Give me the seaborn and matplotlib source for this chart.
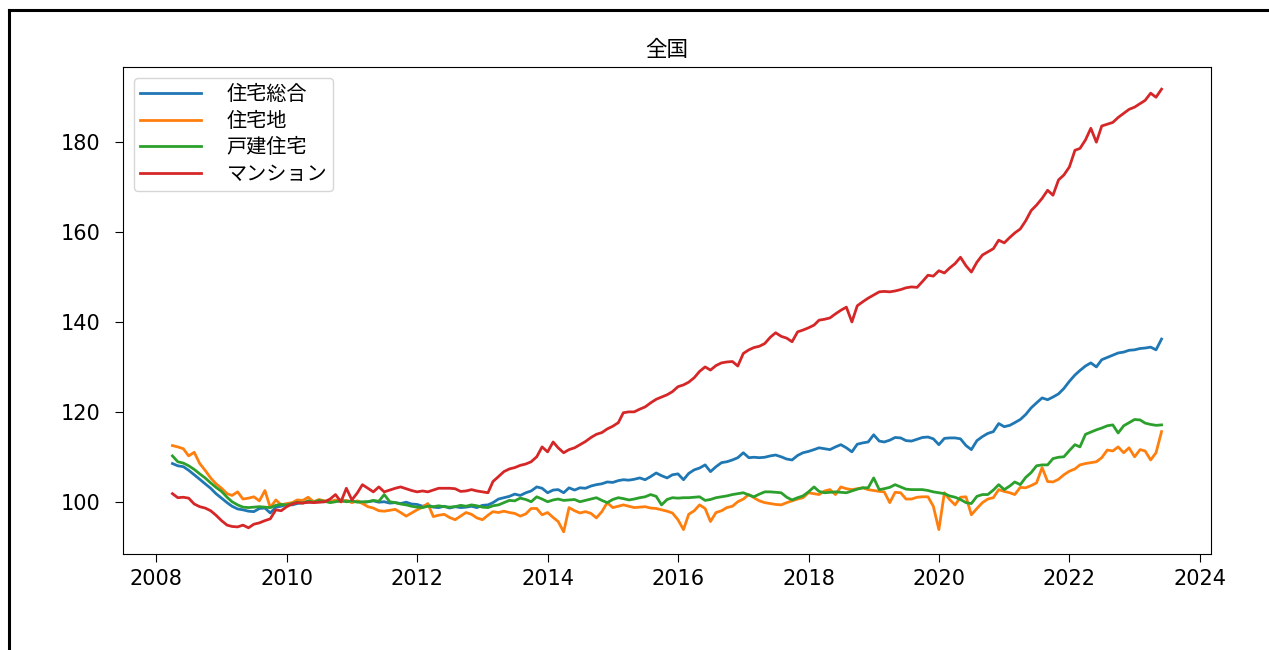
import pandas as pd
import seaborn as sns
import matplotlib.pyplot as plt
import matplotlib.dates as mdates
from matplotlib.lines import Line2D

# monthly index values, 2008-04 .. 2023-06 (2010 average = 100)
start_month = '2008-04-01'

total_housing = [  # 住宅総合
    108.5, 108.0, 107.8, 107.0, 106.0, 105.0, 104.0, 103.0, 101.8,
    100.8, 99.8, 99.0, 98.4, 98.2, 97.9, 97.8, 98.5, 98.6, 97.5, 98.8, 99.0,
    99.4, 99.3, 99.6, 99.8, 99.9, 100.0, 100.0, 100.0, 100.1, 100.2, 100.0, 100.2,
    100.0, 100.1, 99.8, 100.0, 100.2, 99.9, 100.0, 99.7, 99.8, 99.6, 99.9, 99.5,
    99.4, 99.0, 99.3, 98.8, 98.7, 99.0, 98.6, 98.9, 98.7, 98.8, 99.0, 98.7,
    99.2, 99.3, 99.8, 100.6, 100.9, 101.2, 101.7, 101.4, 102.0, 102.4, 103.3, 103.0,
    102.0, 102.6, 102.7, 102.0, 103.1, 102.6, 103.1, 103.0, 103.5, 103.8, 104.0, 104.4,
    104.3, 104.7, 104.9, 104.8, 105.0, 105.3, 104.9, 105.6, 106.4, 105.8, 105.3, 106.0,
    106.2, 104.9, 106.3, 107.1, 107.5, 108.2, 106.7, 107.8, 108.7, 108.9, 109.3, 109.8,
    110.9, 109.8, 109.9, 109.8, 109.9, 110.2, 110.4, 110.0, 109.5, 109.3, 110.3, 110.9,
    111.2, 111.6, 112.0, 111.8, 111.6, 112.2, 112.7, 112.0, 111.1, 112.8, 113.1, 113.3,
    114.9, 113.5, 113.3, 113.7, 114.3, 114.2, 113.6, 113.5, 113.9, 114.3, 114.4, 114.0,
    112.7, 114.1, 114.2, 114.2, 114.0, 112.5, 111.6, 113.6, 114.5, 115.2, 115.6, 117.4,
    116.7, 117.0, 117.6, 118.3, 119.4, 120.9, 122.0, 123.1, 122.7, 123.3, 124.0, 125.2,
    126.8, 128.2, 129.2, 130.2, 130.9, 130.0, 131.6, 132.1, 132.6, 133.1, 133.3, 133.7,
    133.8, 134.1, 134.2, 134.4, 133.8, 136.2,
]

land = [  # 住宅地
    112.5, 112.2, 111.8, 110.2, 111.0, 108.5, 107.0, 105.3, 104.0,
    103.0, 101.8, 101.4, 102.2, 100.6, 100.8, 101.1, 100.2, 102.5, 98.7, 100.4, 99.3,
    99.6, 99.8, 100.4, 100.3, 101.0, 100.0, 100.5, 100.2, 100.0, 100.4, 100.0, 100.3,
    99.8, 100.2, 99.6, 98.9, 98.6, 98.0, 97.9, 98.1, 98.3, 97.6, 96.8, 97.5,
    98.2, 98.8, 99.6, 96.7, 97.0, 97.2, 96.5, 96.0, 96.8, 97.6, 97.2, 96.4,
    96.0, 97.0, 97.8, 97.6, 97.9, 97.6, 97.4, 96.8, 97.3, 98.5, 98.5, 97.1,
    97.6, 96.5, 95.6, 93.3, 98.7, 98.0, 97.5, 97.8, 97.4, 96.4, 97.8, 99.8,
    98.7, 99.0, 99.3, 99.0, 98.7, 98.8, 98.9, 98.6, 98.5, 98.2, 97.9, 97.5,
    96.0, 93.8, 97.2, 98.0, 99.3, 98.5, 95.6, 97.6, 98.0, 98.7, 99.0, 100.0,
    100.6, 101.6, 100.9, 100.2, 99.8, 99.6, 99.4, 99.3, 99.8, 100.2, 100.6, 100.9,
    102.0, 101.8, 101.6, 102.4, 102.7, 101.6, 103.3, 102.9, 102.7, 102.9, 103.1, 102.7,
    102.5, 102.3, 102.2, 99.8, 102.1, 102.0, 100.6, 100.6, 101.0, 101.1, 101.1, 99.0,
    93.8, 102.0, 100.5, 99.3, 101.0, 101.1, 97.1, 98.5, 99.8, 100.6, 100.9, 102.7,
    102.3, 102.0, 101.6, 103.2, 103.1, 103.6, 104.2, 107.6, 104.5, 104.4, 105.0, 106.0,
    106.8, 107.3, 108.2, 108.5, 108.7, 108.9, 109.8, 111.5, 111.3, 112.2, 110.9, 112.0,
    110.0, 111.6, 111.3, 109.3, 110.9, 115.6,
]

detached = [  # 戸建住宅
    110.2, 108.9, 108.6, 108.0, 107.2, 106.2, 105.3, 104.2, 103.2,
    102.3, 101.0, 100.0, 99.3, 98.8, 98.7, 98.8, 98.9, 98.8, 98.7, 99.2, 99.4,
    99.3, 99.6, 99.9, 99.7, 100.2, 99.9, 100.3, 100.1, 99.8, 100.0, 100.4, 100.0,
    100.2, 99.9, 100.0, 100.0, 100.3, 100.1, 101.6, 100.0, 99.8, 99.5, 99.3, 99.0,
    98.8, 98.7, 99.0, 98.9, 99.1, 98.9, 98.8, 98.9, 99.2, 99.0, 99.3, 99.1,
    98.8, 98.7, 99.1, 99.3, 99.8, 100.3, 100.2, 100.8, 100.5, 100.0, 101.1, 100.6,
    100.0, 100.4, 100.6, 100.3, 100.4, 100.5, 100.0, 100.3, 100.6, 100.9, 100.3, 99.8,
    100.5, 100.9, 100.7, 100.4, 100.6, 100.9, 101.1, 101.6, 101.2, 99.3, 100.5, 100.9,
    100.8, 100.9, 100.9, 101.0, 101.1, 100.3, 100.5, 100.9, 101.1, 101.3, 101.6, 101.8,
    102.0, 101.5, 101.1, 101.7, 102.2, 102.2, 102.1, 102.0, 101.0, 100.4, 100.9, 101.3,
    102.2, 103.3, 102.3, 102.0, 102.1, 102.2, 102.1, 102.0, 102.4, 102.8, 103.1, 103.1,
    105.3, 102.7, 102.9, 103.2, 103.8, 103.3, 102.8, 102.7, 102.7, 102.7, 102.5, 102.2,
    102.0, 101.8, 101.3, 101.0, 100.5, 99.8, 99.6, 101.2, 101.6, 101.6, 102.6, 103.8,
    102.7, 103.5, 104.4, 103.8, 105.4, 106.5, 108.0, 108.2, 108.2, 109.6, 109.9, 110.0,
    111.4, 112.7, 112.2, 115.0, 115.5, 116.0, 116.4, 116.9, 117.1, 115.3, 116.9, 117.6,
    118.3, 118.2, 117.5, 117.2, 117.0, 117.1,
]

condo = [  # マンション
    101.8, 100.9, 101.0, 100.8, 99.5, 98.9, 98.6, 98.0, 97.0,
    95.8, 94.8, 94.5, 94.4, 94.8, 94.2, 95.0, 95.3, 95.8, 96.2, 98.2, 98.0,
    98.9, 99.5, 99.8, 99.7, 99.9, 99.8, 99.9, 100.0, 100.6, 101.6, 100.0, 103.0,
    100.4, 102.0, 103.8, 103.0, 102.2, 103.3, 102.2, 102.6, 103.0, 103.3, 102.9, 102.5,
    102.2, 102.4, 102.2, 102.6, 103.0, 103.0, 103.0, 102.9, 102.3, 102.4, 102.7, 102.4,
    102.2, 102.0, 104.5, 105.6, 106.7, 107.3, 107.6, 108.1, 108.4, 108.9, 110.0, 112.2,
    111.1, 113.3, 112.0, 110.9, 111.6, 112.0, 112.7, 113.4, 114.3, 115.0, 115.4, 116.2,
    116.8, 117.6, 119.8, 120.0, 120.0, 120.6, 121.1, 122.0, 122.8, 123.3, 123.8, 124.5,
    125.6, 126.0, 126.6, 127.6, 129.0, 130.0, 129.3, 130.3, 130.9, 131.1, 131.2, 130.2,
    133.0, 133.8, 134.3, 134.6, 135.2, 136.6, 137.6, 136.8, 136.4, 135.6, 137.8, 138.2,
    138.7, 139.3, 140.4, 140.6, 140.9, 141.8, 142.6, 143.3, 140.0, 143.6, 144.5, 145.3,
    146.0, 146.7, 146.8, 146.7, 146.9, 147.2, 147.6, 147.8, 147.7, 149.0, 150.4, 150.2,
    151.4, 150.9, 152.0, 153.0, 154.4, 152.5, 151.1, 153.3, 154.9, 155.6, 156.3, 158.2,
    157.6, 158.8, 159.8, 160.7, 162.5, 164.8, 166.0, 167.5, 169.3, 168.2, 171.6, 172.7,
    174.5, 178.2, 178.6, 180.5, 183.1, 180.0, 183.6, 184.0, 184.4, 185.5, 186.4, 187.3,
    187.8, 188.6, 189.3, 190.9, 190.0, 191.8,
]

series_names = ['住宅総合', '住宅地', '戸建住宅', 'マンション']
series_values = [total_housing, land, detached, condo]

plt.rcParams['font.family'] = ['Noto Sans CJK JP', 'DejaVu Sans']

dates = pd.date_range(start_month, periods=len(total_housing), freq='MS')
frames = []
for name, vals in zip(series_names, series_values):
    frames.append(pd.DataFrame({'date': dates, 'index': vals, 'kind': name}))
data = pd.concat(frames, ignore_index=True)

fig = plt.figure(figsize=(12.69, 6.5), dpi=100)
ax = fig.add_axes([0.0969, 0.1477, 0.8574, 0.7492])

sns.lineplot(data=data, x='date', y='index', hue='kind', hue_order=series_names,
             palette=sns.color_palette('tab10', 4), linewidth=2.0, ax=ax)

ax.set_title('全国', fontsize=15.5, pad=8)
ax.set_xlabel('')
ax.set_ylabel('')
ax.xaxis.set_major_locator(mdates.YearLocator(2))
ax.xaxis.set_major_formatter(mdates.DateFormatter('%Y'))
ax.set_yticks([100, 120, 140, 160, 180])
ax.tick_params(axis='both', labelsize=15, length=6, labelfontfamily='DejaVu Sans')
ax.tick_params(axis='y', pad=10)
ax.tick_params(axis='x', pad=5)

handles, labels = ax.get_legend_handles_labels()
ax.legend(handles, labels, loc='upper left', fontsize=14.5, handlelength=3.0,
          handletextpad=1.3, borderaxespad=0.55, borderpad=0.3, labelspacing=0.28)

# outer frame of the screenshot (top and left edges)
fig.add_artist(Line2D([9 / 1269, 1.0], [1 - 10 / 650, 1 - 10 / 650],
                      transform=fig.transFigure, color='black', lw=2.2))
fig.add_artist(Line2D([9 / 1269, 9 / 1269], [0.0, 1 - 10 / 650],
                      transform=fig.transFigure, color='black', lw=2.2))

fig.savefig('out.png', dpi=100)
